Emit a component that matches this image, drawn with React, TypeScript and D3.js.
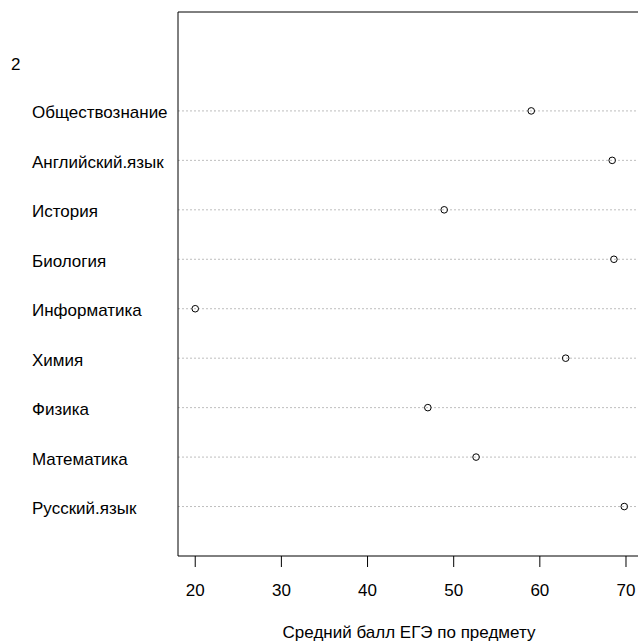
import { useEffect, useRef } from 'react';
import * as d3 from 'd3';

// subjects listed bottom to top, as in the R dotchart
const subjects = [
    'Русский.язык',
    'Математика',
    'Физика',
    'Химия',
    'Информатика',
    'Биология',
    'История',
    'Английский.язык',
    'Обществознание',
];
const scores = [69.8, 52.6, 47.0, 63.0, 20.0, 68.6, 48.9, 68.4, 59.0];
const groupLabel = '2';
const xTicks = [20, 30, 40, 50, 60, 70];
const xTitle = 'Средний балл ЕГЭ по предмету';

const W = 638;
const H = 641;

const App = () => {
    const svgRef = useRef<SVGSVGElement>(null);

    useEffect(() => {
        const svg = d3.select(svgRef.current);
        svg.selectAll('*').remove();

        const font = 'Arial, "Liberation Sans", sans-serif';
        const fs = 17;
        const left = 178;
        const top = 12;
        const bottom = 556;

        const x = d3.scaleLinear().domain([18.0, 71.8]).range([left, 641.5]);
        const y = d3.scaleLinear().domain([0, 11]).range([bottom, top]);

        const rows = subjects.map((s, i) => ({ name: s, value: scores[i], row: i + 1 }));

        // grid lines (dotted)
        svg.selectAll('.grid')
            .data(rows)
            .enter()
            .append('line')
            .attr('x1', left)
            .attr('x2', W)
            .attr('y1', d => y(d.row))
            .attr('y2', d => y(d.row))
            .attr('stroke', '#bebebe')
            .attr('stroke-width', 1)
            .attr('stroke-dasharray', '2,2');

        // points
        svg.selectAll('.pt')
            .data(rows)
            .enter()
            .append('circle')
            .attr('cx', d => x(d.value))
            .attr('cy', d => y(d.row))
            .attr('r', 3.3)
            .attr('fill', 'none')
            .attr('stroke', '#000')
            .attr('stroke-width', 1);

        // row labels
        svg.selectAll('.lab')
            .data(rows)
            .enter()
            .append('text')
            .attr('x', 32)
            .attr('y', d => y(d.row) + 1.5)
            .attr('dy', '0.35em')
            .attr('font-family', font)
            .attr('font-size', fs)
            .attr('fill', '#000')
            .text(d => d.name);

        // group label
        svg.append('text')
            .attr('x', 11)
            .attr('y', y(subjects.length + 1) + 2.5)
            .attr('dy', '0.35em')
            .attr('font-family', font)
            .attr('font-size', fs)
            .text(groupLabel);

        // frame (right edge falls outside the picture)
        svg.append('path')
            .attr('d', `M${W + 5},${top}H${left}V${bottom}H${W + 5}`)
            .attr('fill', 'none')
            .attr('stroke', '#000')
            .attr('stroke-width', 1);

        // x axis ticks
        const ax = svg.append('g');
        ax.selectAll('.tick')
            .data(xTicks)
            .enter()
            .append('line')
            .attr('x1', d => x(d))
            .attr('x2', d => x(d))
            .attr('y1', bottom)
            .attr('y2', bottom + 11)
            .attr('stroke', '#000');
        ax.selectAll('.tl')
            .data(xTicks)
            .enter()
            .append('text')
            .attr('x', d => x(d))
            .attr('y', 590)
            .attr('dy', '0.35em')
            .attr('text-anchor', 'middle')
            .attr('font-family', font)
            .attr('font-size', fs)
            .text(d => d);

        svg.append('text')
            .attr('x', 409)
            .attr('y', 632)
            .attr('dy', '0.35em')
            .attr('text-anchor', 'middle')
            .attr('font-family', font)
            .attr('font-size', fs)
            .text(xTitle);
    }, []);

    return (
        <svg
            ref={svgRef}
            width={W}
            height={H}
            style={{ position: 'fixed', left: 0, top: 0, background: '#fff' }}
        />
    );
};

export default App;
